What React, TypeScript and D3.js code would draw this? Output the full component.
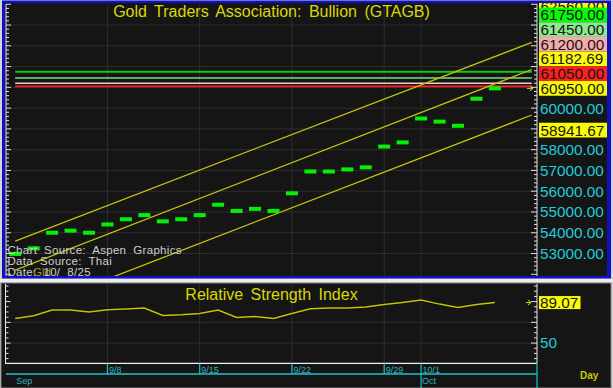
import React from 'react';
import * as d3 from 'd3';

// ---------- data ----------
const dates = ["9/1","9/2","9/3","9/4","9/5","9/8","9/9","9/10","9/11","9/12","9/15","9/16","9/17","9/18","9/19","9/22","9/23","9/24","9/25","9/26","9/29","9/30","10/1","10/2","10/3","10/6","10/7"];
const prices = [52980,53250,54000,54100,54000,54400,54650,54850,54550,54650,54850,55350,55050,55150,55050,55900,56950,56950,57050,57150,58150,58350,59500,59350,59150,60450,60950];
const rsiValues = [73.7,76.3,81.8,81.8,79.9,82.1,82.8,83.8,76.6,77.3,78.5,81.8,74.7,75.6,73.7,78.5,83.1,83.8,83.8,84.7,87.2,89.2,91.5,87.6,84.3,87.2,89.07];
const weekTicks = ["9/8","9/15","9/22","9/29","10/1"];
const monthStarts = ["9/1","10/1"];
const monthNames = ["Sep","Oct"];
const levelValues = [61750, 61450, 61200, 61050];
const labelValues = [62560, 61750, 61450, 61200, 61182.69, 61050, 60950, 58941.67];
const labelTexts = ["62560.00","61750.00","61450.00","61200.00","61182.69","61050.00","60950.00","58941.67"];
const channelStart = [53601, 52205, 50053];
const channelEnd = [63168, 61858, 59668];
const channelSpan = [0, 28];
const priceTicks = [53000,54000,55000,56000,57000,58000,59000,60000,61000,62000,63000,64000];
const rsiGrid = [50, 70];
const rsiTickLabels = [50];
const lastRsiText = "89.07";
const title = "Gold Traders Association: Bullion (GTAGB)";
const rsiTitle = "Relative Strength Index";
const infoLines = ["Chart Source: Aspen Graphics", "Data Source: Thai", "Date: 10/ 8/25"];

// ---------- styles ----------
const levelColors = ["#10c810", "#7edc7e", "#f2caca", "#ff2222"];
const labelBg = ["#ffff00", "#00ff00", "#8ee88e", "#f4abab", "#ffff00", "#ff2020", "#ffff00", "#ffff00"];
const FONT = "'Liberation Sans', Arial, Helvetica, sans-serif";
const BG = "#151515";
const GRID = "#2e2e2e";
const YEL = "#d8d800";
const CH = "#c4c400";
const CYAN = "#22ccd8";
const TEAL = "#2fb3bd";

export default function App() {
  const W = 613, H = 388;
  const pL = 6, pR = 537, pT = 4, pB = 276;
  const rT = 284, rB = 363.3;

  const xs = d3.scaleLinear().domain([0, 26]).range([15.2, 494.9]);
  const ys = d3.scaleLinear().domain([52000, 65000]).range([274.3, 4.25]);
  const rs = d3.scaleLinear().domain([30.5, 107]).range([rB, rT]);
  const idx = (d: string) => dates.indexOf(d);

  // label stacking (ascending values pushed upward, clamped to the panel top)
  const LH = 14.7;
  const order = labelValues.map((v, i) => i).sort((a, b) => labelValues[a] - labelValues[b]);
  const centers: number[] = new Array(labelValues.length);
  let prev = Infinity;
  order.forEach((i) => {
    const c = Math.max(Math.min(ys(labelValues[i]), prev - LH), 7);
    centers[i] = c;
    prev = c;
  });
  const visibleTicks = priceTicks.filter((t) => {
    const y = ys(t);
    if (y < 10 || y > 265) return false;
    return centers.every((c) => Math.abs(c - y) >= LH);
  });

  const minorTicks = d3.range(52000, 65001, 200);
  const rsiTicks = d3.range(35, 106, 5);

  const rsiLine = d3.line<number>().x((d, i) => xs(i)).y((d) => rs(d))(rsiValues) || "";
  const lastI = prices.length - 1;
  const lastY = ys(prices[lastI]);
  const lastRY = rs(rsiValues[lastI]);

  return (
    <svg width={W} height={H} style={{ position: 'absolute', left: 0, top: 0, background: '#d0d0d0' }} fontFamily={FONT}>
      <defs>
        <clipPath id="mainClip"><rect x={pL} y={pT} width={pR - pL} height={pB - pT} /></clipPath>
        <clipPath id="labelClip"><rect x={537} y={3} width={71} height={273} /></clipPath>
      </defs>
      <rect x={0} y={0} width={W} height={H} fill="#d4d4d4" />
      {/* top panel frame */}
      <rect x={2} y={0.5} width={609} height={278} fill="#1010c8" />
      <rect x={5} y={3} width={602} height={273} fill={BG} />
      <rect x={0} y={279} width={W} height={3.5} fill="#ececec" />
      {/* RSI panel */}
      <rect x={1} y={283} width={610} height={105} fill={BG} stroke="#808080" strokeWidth={1} />

      {/* main gridlines */}
      {priceTicks.map((t) => (
        <line key={'g' + t} x1={pL} x2={pR} y1={ys(t)} y2={ys(t)} stroke={GRID} strokeWidth={1} />
      ))}
      {weekTicks.map((d) => (
        <line key={'vg' + d} x1={xs(idx(d))} x2={xs(idx(d))} y1={pT} y2={pB} stroke={GRID} strokeWidth={1} />
      ))}

      {/* title */}
      <text x={(pL + pR) / 2} y={17.3} textAnchor="middle" fontSize={16} fill={YEL} wordSpacing={3}>{title}</text>

      <g clipPath="url(#mainClip)">
        {levelValues.map((v, i) => (
          <line key={'lv' + v} x1={xs(channelSpan[0])} x2={xs(channelSpan[1])} y1={ys(v)} y2={ys(v)} stroke={levelColors[i]} strokeWidth={i === 0 || i === 3 ? 1.8 : 1.5} />
        ))}
        {channelStart.map((v, i) => (
          <line key={'ch' + i} x1={xs(channelSpan[0])} y1={ys(v)} x2={xs(channelSpan[1])} y2={ys(channelEnd[i])} stroke={CH} strokeWidth={1.3} />
        ))}
        {prices.map((v, i) => (
          <rect key={'b' + i} x={xs(i) - 6} y={ys(v) - 2} width={12} height={4} fill="#00f000" />
        ))}
      </g>

      {/* last price arrow */}
      <path d={`M${pR - 10},${lastY} H${pR - 4} M${pR - 7},${lastY - 2.5} L${pR - 4},${lastY} L${pR - 7},${lastY + 2.5}`} stroke={YEL} strokeWidth={1} fill="none" />

      {/* info text */}
      <text x={33} y={275.5} fontSize={11.5} fill="#9a9a2a">Gld</text>
      {infoLines.map((t, i) => (
        <text key={'info' + i} x={7.5} y={253.5 + i * 11} fontSize={11.5} letterSpacing={0.3} wordSpacing={3.5} fill="#cfcfcf" style={{ whiteSpace: 'pre' }}>{t}</text>
      ))}

      {/* main axes */}
      <line x1={pL} x2={pL} y1={pT} y2={pB} stroke="#e0e0e0" strokeWidth={1} />
      <line x1={pR} x2={pR} y1={pT} y2={pB} stroke="#e0e0e0" strokeWidth={1} />
      {minorTicks.map((v) => {
        const y = ys(v);
        if (y < pT || y > pB) return null;
        const major = v % 1000 === 0;
        return (
          <g key={'mt' + v}>
            <line x1={pL} x2={pL + (major ? 5 : 3)} y1={y} y2={y} stroke="#e0e0e0" strokeWidth={1} />
            <line x1={pR} x2={pR - (major ? 6 : 3)} y1={y} y2={y} stroke="#e0e0e0" strokeWidth={1} />
          </g>
        );
      })}

      {/* price tick labels */}
      {visibleTicks.map((t) => (
        <text key={'pt' + t} x={540} y={ys(t) + 5.4} fontSize={15.3} fill={CYAN}>{d3.format('.2f')(t)}</text>
      ))}

      {/* stacked value labels: highest drawn first so the next one overlaps it */}
      <g clipPath="url(#labelClip)">
        {order.slice().reverse().map((i) => (
          <g key={'lab' + i}>
            <rect x={539} y={centers[i] - LH / 2} width={68} height={LH} fill={labelBg[i]} />
            <text x={540.5} y={centers[i] + 5.4} fontSize={15.3} fill="#141414">{labelTexts[i]}</text>
          </g>
        ))}
      </g>

      {/* RSI gridlines */}
      {rsiGrid.map((g) => (
        <line key={'rg' + g} x1={5.5} x2={pR} y1={rs(g)} y2={rs(g)} stroke={GRID} strokeWidth={1} />
      ))}
      {weekTicks.map((d) => (
        <line key={'rvg' + d} x1={xs(idx(d))} x2={xs(idx(d))} y1={rT} y2={rB} stroke={GRID} strokeWidth={1} />
      ))}
      <text x={(pL + pR) / 2} y={300} textAnchor="middle" fontSize={16} fill={YEL} wordSpacing={3}>{rsiTitle}</text>
      <path d={rsiLine} fill="none" stroke="#0a0a00" strokeWidth={3} opacity={0.6} />
      <path d={rsiLine} fill="none" stroke={CH} strokeWidth={1.5} />

      {/* RSI axes */}
      <line x1={5.5} x2={5.5} y1={rT} y2={rB} stroke="#e8e8e8" strokeWidth={1} />
      <line x1={pR} x2={pR} y1={rT} y2={rB} stroke="#e8e8e8" strokeWidth={1} />
      <line x1={5} x2={pR} y1={rB} y2={rB} stroke="#f0f0f0" strokeWidth={1.2} />
      {rsiTicks.map((v) => {
        const y = rs(v);
        const major = rsiGrid.includes(v) || v === 90;
        return (
          <g key={'rt' + v}>
            <line x1={5.5} x2={5.5 + (major ? 5 : 3)} y1={y} y2={y} stroke="#e0e0e0" strokeWidth={1} />
            <line x1={pR} x2={pR - (major ? 6 : 3)} y1={y} y2={y} stroke="#e0e0e0" strokeWidth={1} />
          </g>
        );
      })}
      {rsiTickLabels.map((v) => (
        <text key={'rl' + v} x={540} y={rs(v) + 5.4} fontSize={15.3} fill={CYAN}>{v}</text>
      ))}
      <path d={`M${pR - 11},${lastRY} H${pR - 6} M${pR - 9},${lastRY - 2.5} L${pR - 6},${lastRY} L${pR - 9},${lastRY + 2.5}`} stroke={YEL} strokeWidth={1} fill="none" />
      <rect x={539} y={lastRY - 6.5} width={41.5} height={13} fill="#ffff00" />
      <text x={540} y={lastRY + 5.4} fontSize={15.3} fill="#141414">{lastRsiText}</text>

      {/* date axis */}
      <line x1={6} x2={pR} y1={374} y2={374} stroke="#1fc0c8" strokeWidth={1.5} />
      <line x1={pR} x2={pR} y1={rB} y2={H} stroke="#1fc0c8" strokeWidth={1.2} />
      {weekTicks.map((d) => {
        const x = xs(idx(d));
        const isMonth = monthStarts.includes(d);
        return (
          <g key={'dt' + d}>
            <line x1={x} x2={x} y1={rB} y2={isMonth ? H : 374} stroke="#1fc0c8" strokeWidth={1.2} />
            <text x={x + 1.5} y={372.5} fontSize={9} fill={TEAL}>{d}</text>
          </g>
        );
      })}
      {monthStarts.map((d, i) => (
        <text key={'mn' + d} x={xs(idx(d)) + 1} y={383.5} fontSize={9} fill={TEAL}>{monthNames[i]}</text>
      ))}
      <text x={580} y={378.5} fontSize={10} fontWeight="bold" fill="#c8c800">Day</text>
    </svg>
  );
}
